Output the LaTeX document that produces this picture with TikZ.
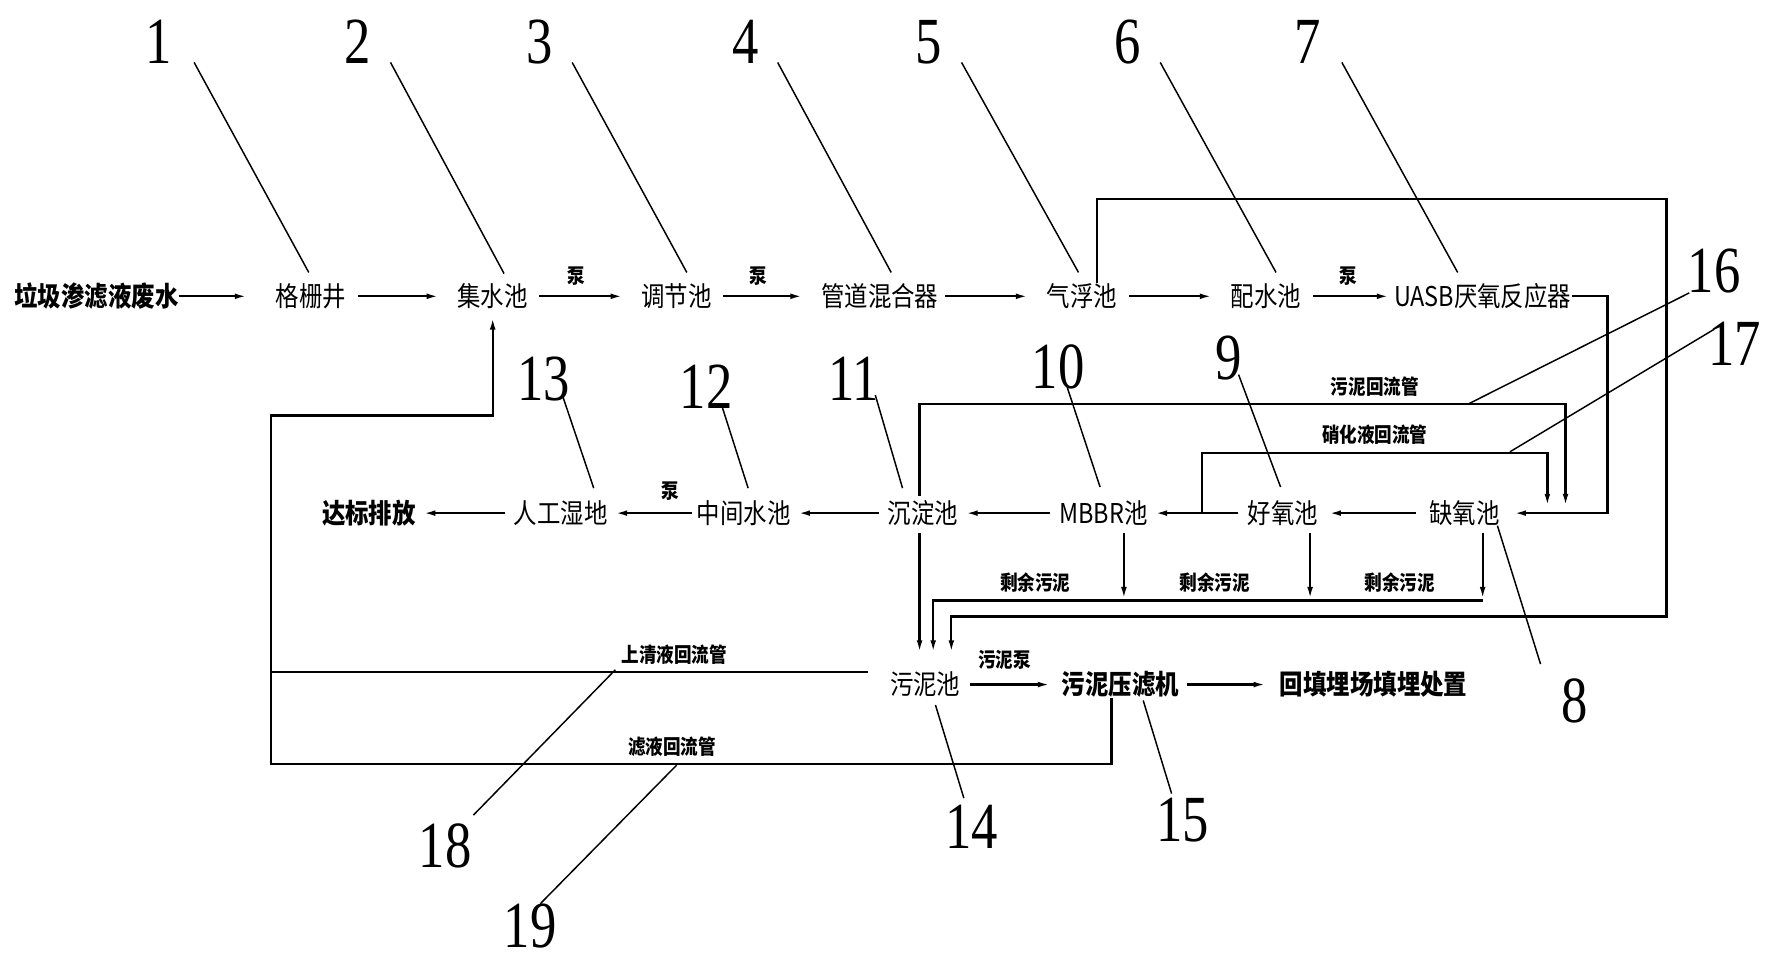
\documentclass[tikz,border=0pt]{standalone}
\usepackage{fontspec}
\newfontfamily\cjk[FakeStretch=0.86]{Noto Sans CJK SC}
\newfontfamily\numf[FakeStretch=0.8]{Liberation Serif}
\usetikzlibrary{arrows.meta}
\newcommand\callout[4]{%
  \node[num] (n#1) at (#2) {#1};
  \coordinate (la#1) at (#3);
  \coordinate (lb#1) at (#4);
  \draw[lead] (la#1) -- (lb#1);}
\begin{document}
\begin{tikzpicture}[x=1pt,y=-1pt,
  lbl/.style={font=\cjk\fontsize{24}{24}\selectfont, inner sep=0pt},
  blbl/.style={font=\cjk\bfseries\fontsize{24}{24}\selectfont, inner sep=0pt},
  small/.style={font=\cjk\bfseries\fontsize{18}{18}\selectfont, inner sep=0pt},
  num/.style={font=\numf\fontsize{58}{58}\selectfont, inner sep=0pt},
  pipe/.style={line width=2pt},
  flow/.style={pipe, -{Latex[length=11pt,width=5pt]}},
  lead/.style={line width=1.3pt},
  topflow/.style={flow, shorten <=10pt, shorten >=16pt},
  rowflow/.style={flow, shorten <=8pt, shorten >=6pt}]
\useasboundingbox[fill=white] (0,0) rectangle (1560,850);

% ---- top row
\node[blbl] (src) at (85,261) {垃圾渗滤液废水};
\node[lbl] (geshan) at (274,261) {格栅井};
\node[lbl] (jishui) at (434,261) {集水池};
\node[lbl] (tiaojie) at (596,261) {调节池};
\node[lbl] (guandao) at (775,261) {管道混合器};
\node[lbl] (qifu) at (953,261) {气浮池};
\node[lbl] (peishui) at (1115,261) {配水池};
\node[lbl] (uasb) at (1306,261) {UASB厌氧反应器};

\draw[flow, shorten >=25pt] (src) -- (geshan);
\draw[topflow] (geshan) -- (jishui);
\draw[topflow] (jishui) -- (tiaojie);
\draw[topflow] (tiaojie) -- (guandao);
\draw[topflow, shorten <=6pt] (guandao) -- (qifu);
\draw[topflow] (qifu) -- (peishui);
\draw[topflow, shorten >=4pt] (peishui) -- (uasb);

\node[small] (p1) at (508,243) {泵};
\node[small] (p2) at (668,243) {泵};
\node[small] (p3) at (1188,243) {泵};

% ---- second row
\node[blbl] (dabiao) at (325,452) {达标排放};
\node[lbl] (rengong) at (494,452) {人工湿地};
\node[lbl] (zhongjian) at (655,452) {中间水池};
\node[lbl] (chendian) at (813,452) {沉淀池};
\node[lbl] (mbbr) at (972,452) {MBBR池};
\node[lbl] (haoyang) at (1130,452) {好氧池};
\node[lbl] (queyang) at (1290,452) {缺氧池};

\draw[rowflow] (rengong) -- (dabiao);
\draw[rowflow, shorten <=4pt] (zhongjian) -- (rengong);
\draw[rowflow] (chendian) -- (zhongjian);
\draw[rowflow] (mbbr) -- (chendian);
\draw[rowflow] (haoyang) -- (mbbr);
\draw[rowflow, shorten <=12pt, shorten >=9pt] (queyang) -- (haoyang);
\node[small] (p4) at (590,433) {泵};

% ---- third row
\node[lbl] (wuni) at (815,603) {污泥池};
\node[blbl] (yalv) at (987,603) {污泥压滤机};
\node[blbl] (huitian) at (1210,603) {回填埋场填埋处置};
\draw[flow, shorten <=8pt, shorten >=10pt] (wuni) -- (yalv);
\draw[flow, shorten <=7pt, shorten >=12pt] (yalv) -- (huitian);
\node[small] (p5) at (885,581) {污泥泵};

% ---- UASB to anoxic
\coordinate (uR) at (1416,261);
\draw[flow, shorten >=12pt] (uasb.east) -- (uR) |- (queyang.east);

% ---- arrow tips into sludge tank
\coordinate (w1) at (810,575);
\coordinate (w2) at (822,575);
\coordinate (w3) at (838,575);

% flotation sludge loop
\coordinate (qfTop) at (966,249);
\coordinate (rtTop) at (1468,175);
\coordinate (rtBot) at (1468,543);
\draw[flow] (qfTop) |- (rtTop) |- (w3 |- rtBot) -- (w3);

% settling tank to sludge tank
\draw[flow, shorten <=6pt] (chendian.south -| w1) -- (w1);

% sludge return (16)
\coordinate (s16) at (1379,356);
\coordinate (t16) at (1379,446);
\draw[flow, shorten <=4pt] (chendian.north -| w1) |- (s16) -- (t16);
\node[small] (l16) at (1211,341) {污泥回流管};

% nitrification return (17)
\coordinate (j17) at (1059,452);
\coordinate (s17) at (1363,399);
\coordinate (t17) at (1363,446);
\draw[flow] (j17) |- (s17) -- (t17);
\node[small] (l17) at (1211,383) {硝化液回流管};

% excess sludge
\coordinate (r1) at (990,528);
\coordinate (r2) at (1154,528);
\coordinate (r3) at (1306,528);
\draw[flow, shorten <=6pt] (mbbr.south -| r1) -- (r1);
\draw[flow, shorten <=6pt] (haoyang.south -| r2) -- (r2);
\draw[flow, shorten <=6pt] (queyang.south -| r3) -- (r3);
\coordinate (rh) at (1306,529);
\draw[flow] (rh) -| (w2);
\node[small] (e1) at (912,513) {剩余污泥};
\node[small] (e2) at (1070,513) {剩余污泥};
\node[small] (e3) at (1233,513) {剩余污泥};

% return lines to collecting tank
\coordinate (fx) at (979,0);
\coordinate (cbl) at (239,673);
\coordinate (ctl) at (239,366);
\draw[flow, shorten >=7pt] (yalv.south -| fx) |- (cbl) -- (ctl) -| (jishui.south);
\coordinate (qs) at (765,592);
\draw[pipe] (qs) -- (qs -| cbl);
\node[small] (l18) at (594,577) {上清液回流管};
\node[small] (l19) at (592,658) {滤液回流管};

% ---- callout numbers
\callout{1}{140,37}{171,55}{272,240}
\callout{2}{315,37}{344,55}{444,241}
\callout{3}{475,37}{504,55}{605,240}
\callout{4}{657,37}{685,55}{785,240}
\callout{5}{818,37}{847,55}{950,240}
\callout{6}{993,37}{1022,55}{1124,240}
\callout{7}{1152,37}{1182,55}{1284,240}
\callout{16}{1510,239}{1488,258}{1293,356}
\callout{17}{1528,303}{1510,290}{1330,398}
\callout{10}{932,323}{940,341}{969,429}
\callout{9}{1082,315}{1091,330}{1128,429}
\callout{13}{479,334}{496,350}{523,430}
\callout{12}{622,341}{636,358}{659,430}
\callout{11}{752,334}{771,348}{795,430}
\callout{8}{1387,617}{1357,585}{1319,463}
\callout{14}{856,728}{849,703}{824,621}
\callout{15}{1042,722}{1032,699}{1007,617}
\callout{18}{392,745}{417,718}{542,590}
\callout{19}{467,816}{476,796}{596,674}
\end{tikzpicture}
\end{document}
